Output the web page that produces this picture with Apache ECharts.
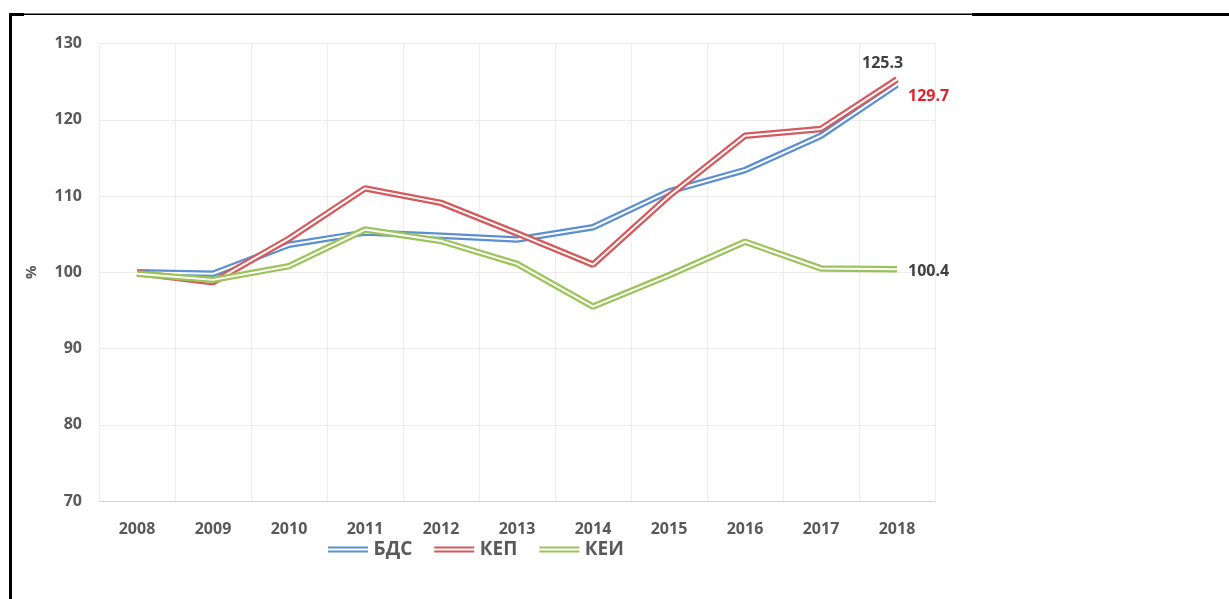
<!DOCTYPE html>
<html>
<head>
<meta charset="utf-8">
<script src="https://cdn.jsdelivr.net/npm/echarts@6/dist/echarts.min.js"></script>
<style>
  html, body { margin: 0; padding: 0; background: #fff; }
  #chart { width: 1229px; height: 599px; }
</style>
</head>
<body>
<div id="chart"></div>
<script>
// values
var years = ['2008', '2009', '2010', '2011', '2012', '2013', '2014', '2015', '2016', '2017', '2018'];
var seriesNames = ['БДС', 'КЕП', 'КЕИ'];
var bds = [100.0, 99.8, 103.6, 105.2, 104.8, 104.3, 105.9, 110.6, 113.4, 117.9, 124.6];
var kep = [99.9, 98.7, 104.4, 111.0, 109.1, 105.1, 101.0, 110.0, 117.9, 118.8, 125.3];
var kei = [99.8, 99.0, 100.8, 105.6, 104.1, 101.1, 95.5, 99.6, 104.0, 100.5, 100.4];
var endLabels = ['129.7', '125.3', '100.4'];

var colors = ['#5b8fd2', '#d45b5d', '#9cc45b'];
var fontName = '"Open Sans", "DejaVu Sans", sans-serif';

var labelCfg = [
  { offset: [3, 12], color: '#e0212b' },
  { offset: [-43, -16], color: '#404040' },
  { offset: [3, 2], color: '#404040' }
];

var seriesData = [bds, kep, kei];
var series = [];
seriesData.forEach(function (d, i) {
  // coloured outer stroke
  series.push({
    name: seriesNames[i],
    type: 'line',
    data: d,
    showSymbol: false,
    symbol: 'none',
    z: 2 + i * 2,
    color: colors[i],
    lineStyle: { color: colors[i], width: 6.5 },
    endLabel: {
      show: true,
      offset: labelCfg[i].offset,
      formatter: endLabels[i],
      color: labelCfg[i].color,
      fontFamily: fontName,
      fontWeight: 'bold',
      fontSize: 16
    },
    emphasis: { disabled: true }
  });
  // white core to get the double line look
  series.push({
    name: seriesNames[i] + '_core',
    type: 'line',
    data: d,
    showSymbol: false,
    symbol: 'none',
    silent: true,
    z: 3 + i * 2,
    lineStyle: { color: '#ffffff', width: 2 },
    emphasis: { disabled: true }
  });
});

var option = {
  animation: false,
  backgroundColor: '#ffffff',
  grid: { left: 99, right: 294, top: 43.5, bottom: 98 },
  legend: {
    data: seriesNames,
    left: 323,
    top: 535,
    icon: 'path://M0,0H40V2H0Z M0,4H40V6H0Z',
    itemWidth: 41,
    itemHeight: 6,
    itemGap: 22,
    textStyle: { color: '#595959', fontFamily: fontName, fontWeight: 'bold', fontSize: 19 }
  },
  xAxis: {
    type: 'category',
    data: years,
    boundaryGap: true,
    axisLine: { lineStyle: { color: '#d4d4d4', width: 1 } },
    axisTick: { show: false },
    splitLine: { show: true, lineStyle: { color: '#ececec' } },
    axisLabel: { color: '#595959', fontFamily: fontName, fontWeight: 'bold', fontSize: 16, margin: 20 }
  },
  yAxis: {
    type: 'value',
    min: 70,
    max: 130,
    interval: 10,
    name: '%',
    nameLocation: 'middle',
    nameRotate: 90,
    nameGap: 60,
    nameTextStyle: { color: '#595959', fontFamily: fontName, fontWeight: 'bold', fontSize: 15 },
    axisLine: { show: false },
    axisTick: { show: false },
    splitLine: { lineStyle: { color: '#ececec' } },
    axisLabel: { color: '#595959', fontFamily: fontName, fontWeight: 'bold', fontSize: 16, margin: 17 }
  },
  graphic: [
    { type: 'rect', shape: { x: 9, y: 13, width: 3, height: 586 }, style: { fill: '#000' } },
    { type: 'rect', shape: { x: 9, y: 13, width: 15, height: 3 }, style: { fill: '#000' } },
    { type: 'rect', shape: { x: 9, y: 13.5, width: 963, height: 1.5 }, style: { fill: '#000' } },
    { type: 'rect', shape: { x: 972, y: 13, width: 257, height: 3 }, style: { fill: '#000' } }
  ],
  series: series
};

var chart = echarts.init(document.getElementById('chart'));
chart.setOption(option);
</script>
</body>
</html>
